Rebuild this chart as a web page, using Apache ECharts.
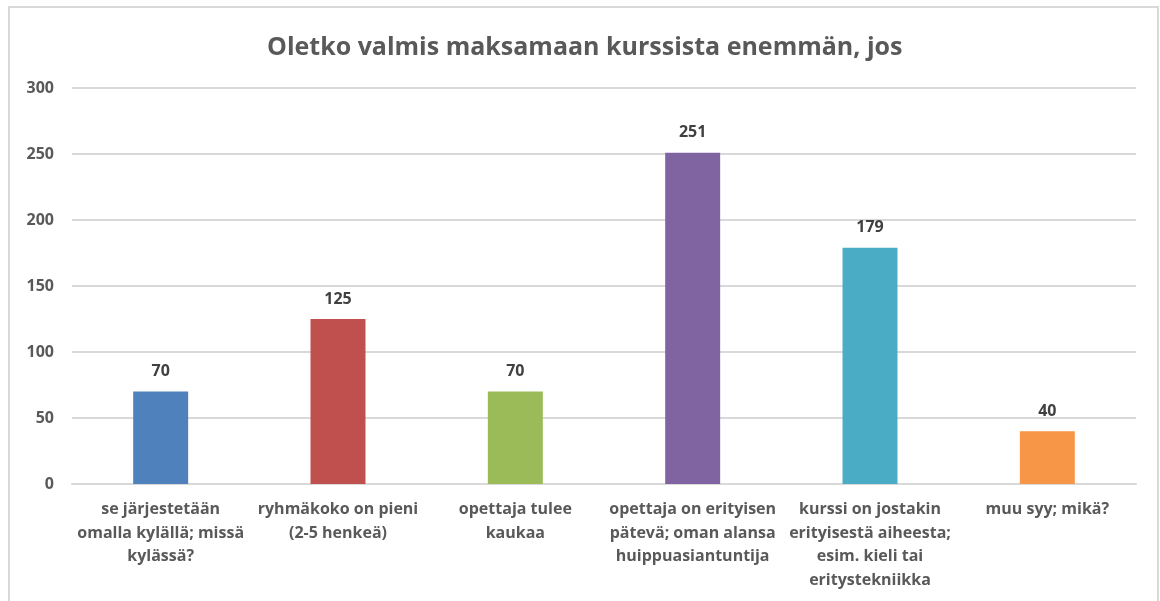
<!DOCTYPE html>
<html>
<head>
<meta charset="utf-8">
<script src="https://cdn.jsdelivr.net/npm/echarts@6/dist/echarts.min.js"></script>
<style>html,body{margin:0;padding:0;background:#fff;}#c{width:1160px;height:601px;}</style>
</head>
<body>
<div id="c"></div>
<script>
const title = 'Oletko valmis maksamaan kurssista enemmän, jos';
const categories = [
  'se järjestetään\nomalla kylällä; missä\nkylässä?',
  'ryhmäkoko on pieni\n(2-5 henkeä)',
  'opettaja tulee\nkaukaa',
  'opettaja on erityisen\npätevä; oman alansa\nhuippuasiantuntija',
  'kurssi on jostakin\nerityisestä aiheesta;\nesim. kieli tai\neritystekniikka',
  'muu syy; mikä?'
];
const values = [70, 125, 70, 251, 179, 40];
const colors = ['#4f81bd', '#c0504d', '#9bbb59', '#8064a2', '#4bacc6', '#f79646'];
const yTicks = {min: 0, max: 300, interval: 50};

const font = 'Open Sans, Liberation Sans, sans-serif';
const chart = echarts.init(document.getElementById('c'));
chart.setOption({
  animation: false,
  backgroundColor: '#fff',
  title: {
    text: title, left: 262, top: 30,
    textStyle: {fontFamily: font, fontSize: 25, fontWeight: 'bold', color: '#595959'}
  },
  graphic: [{
    type: 'rect', shape: {x: 9, y: 7, width: 1149, height: 700},
    style: {fill: 'none', stroke: '#d9d9d9', lineWidth: 2}, silent: true
  }],
  grid: {left: 72, right: 24, top: 88, bottom: 117, containLabel: false},
  xAxis: {
    type: 'category', data: categories,
    axisLine: {lineStyle: {color: '#d9d9d9', width: 2}},
    axisTick: {show: false},
    axisLabel: {interval: 0, margin: 14, fontFamily: font, fontSize: 16, fontWeight: 'bold', color: '#595959', lineHeight: 23.5}
  },
  yAxis: {
    type: 'value', min: yTicks.min, max: yTicks.max, interval: yTicks.interval,
    axisLine: {show: false}, axisTick: {show: false},
    axisLabel: {margin: 18, fontFamily: font, fontSize: 16, fontWeight: 'bold', color: '#595959'},
    splitLine: {lineStyle: {color: '#d9d9d9', width: 2}}
  },
  series: [{
    type: 'bar', barWidth: '31%',
    data: values.map((v, i) => ({value: v, itemStyle: {color: colors[i]}})),
    label: {show: true, position: 'top', distance: 12, fontFamily: font, fontSize: 16, fontWeight: 'bold', color: '#404040'}
  }]
});
</script>
</body>
</html>
